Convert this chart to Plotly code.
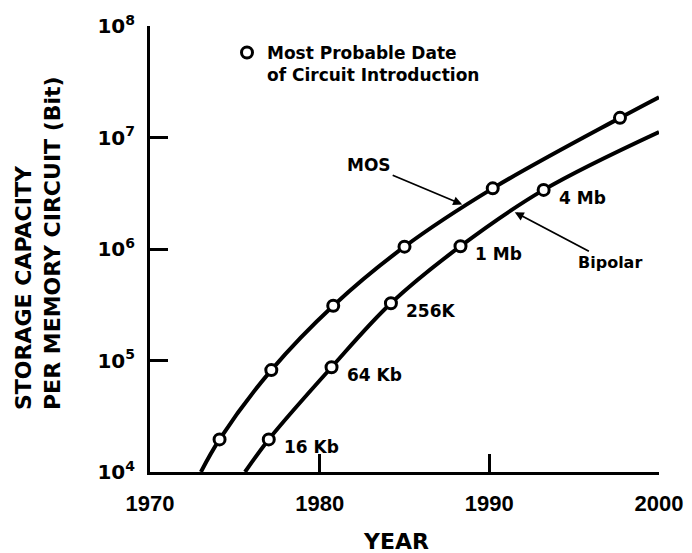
import math
import plotly.graph_objects as go

# ---- data ----
mos_curve_years = [1973.0, 1974.1, 1977.15, 1980.8, 1985.0, 1990.2, 1997.7, 2000.0]
mos_curve_bits = [1.0e4, 1.96e4, 8.2e4, 3.1e5, 1.05e6, 3.5e6, 1.5e7, 2.3e7]
mos_intro_years = [1974.1, 1977.15, 1980.8, 1985.0, 1990.2, 1997.7]
mos_intro_bits = [1.96e4, 8.2e4, 3.1e5, 1.05e6, 3.5e6, 1.5e7]

bip_curve_years = [1975.6, 1977.0, 1980.7, 1984.2, 1988.3, 1993.2, 2000.0]
bip_curve_bits = [1.0e4, 1.96e4, 8.7e4, 3.26e5, 1.06e6, 3.39e6, 1.12e7]
bip_intro_years = [1977.0, 1980.7, 1984.2, 1988.3, 1993.2]
bip_intro_bits = [1.96e4, 8.7e4, 3.26e5, 1.06e6, 3.39e6]
bip_labels = ["16 Kb", "64 Kb", "256K", "1 Mb", "4 Mb"]

x_ticks = [1970, 1980, 1990, 2000]
x_ticktext = ["1970", "1980", "1990", "2000"]
y_ticks = [1e4, 1e5, 1e6, 1e7, 1e8]
y_ticktext = ["10<sup>4</sup>", "10<sup>5</sup>", "10<sup>6</sup>", "10<sup>7</sup>", "10<sup>8</sup>"]

legend_name = "Most Probable Date<br>of Circuit Introduction"

BOLD = "DejaVu Sans"
OFF = 8  # page body margin
W, H = 692 - OFF, 553 - OFF
L, R, T, B = 150 - OFF, 33, 26 - OFF, 81
PW, PH = W - L - R, H - T - B

def px_x(px):  # screen pixel -> paper
    return (px - OFF - L) / PW

def px_y(py):
    return (H - B - (py - OFF)) / PH

def bold_font(size, family=BOLD):
    return dict(family=family, size=size, color="black", weight="bold")

fig = go.Figure()

fig.add_trace(go.Scatter(x=mos_curve_years, y=mos_curve_bits, mode="lines",
                         line=dict(color="black", width=4, shape="spline"),
                         showlegend=False, hoverinfo="skip"))
fig.add_trace(go.Scatter(x=bip_curve_years, y=bip_curve_bits, mode="lines",
                         line=dict(color="black", width=4, shape="spline"),
                         showlegend=False, hoverinfo="skip"))

marker_style = dict(symbol="circle", size=11, color="white",
                    line=dict(color="black", width=3))
fig.add_trace(go.Scatter(x=mos_intro_years, y=mos_intro_bits, mode="markers",
                         marker=marker_style, name=legend_name, showlegend=True))
fig.add_trace(go.Scatter(x=bip_intro_years, y=bip_intro_bits, mode="markers",
                         marker=marker_style, showlegend=False))

annotations = []
for yr, bits, lab in zip(bip_intro_years, bip_intro_bits, bip_labels):
    annotations.append(dict(x=yr, y=math.log10(bits), xref="x", yref="y",
                            text=lab, showarrow=False, xanchor="left", yanchor="middle",
                            xshift=13, yshift=-8, font=bold_font(17)))

annotations.append(dict(x=1988.4, y=6.40, xref="x", yref="y", text="MOS",
                        showarrow=True, ax=-93, ay=-39, arrowhead=2, arrowsize=1,
                        arrowwidth=1.8, arrowcolor="black", font=bold_font(17)))
annotations.append(dict(x=1991.5, y=6.33, xref="x", yref="y", text="Bipolar",
                        showarrow=True, ax=95, ay=50, arrowhead=2, arrowsize=1,
                        arrowwidth=1.8, arrowcolor="black", font=bold_font(16)))
annotations.append(dict(x=px_x(396), y=px_y(541), xref="paper", yref="paper",
                        text="YEAR", showarrow=False, xanchor="center", yanchor="middle",
                        font=bold_font(22)))
annotations.append(dict(x=px_x(38), y=px_y(243), xref="paper", yref="paper",
                        text="STORAGE CAPACITY<br>PER MEMORY CIRCUIT (Bit)",
                        textangle=-90, align="left", showarrow=False,
                        xanchor="center", yanchor="middle", font=bold_font(22)))

fig.update_layout(
    width=W, height=H, autosize=False,
    margin=dict(l=L, r=R, t=T, b=B),
    paper_bgcolor="white", plot_bgcolor="white",
    annotations=annotations,
    legend=dict(x=px_x(227), y=px_y(35), xanchor="left", yanchor="top",
                bgcolor="rgba(0,0,0,0)", valign="top", font=bold_font(17)),
    xaxis=dict(range=[1970, 2000], tickvals=x_ticks, ticktext=x_ticktext,
               ticks="inside", ticklen=18, tickwidth=2.5, tickcolor="black",
               showline=True, linewidth=3, linecolor="black", automargin=False,
               showgrid=False, zeroline=False, ticklabelstandoff=10,
               tickfont=bold_font(22, "Liberation Sans")),
    yaxis=dict(type="log", range=[4, 8], tickvals=y_ticks, ticktext=y_ticktext,
               ticks="inside", ticklen=18, tickwidth=2.5, tickcolor="black",
               showline=True, linewidth=3, linecolor="black", automargin=False,
               showgrid=False, zeroline=False, ticklabelstandoff=8,
               tickfont=bold_font(20)),
)

fig.write_html("out.html")
